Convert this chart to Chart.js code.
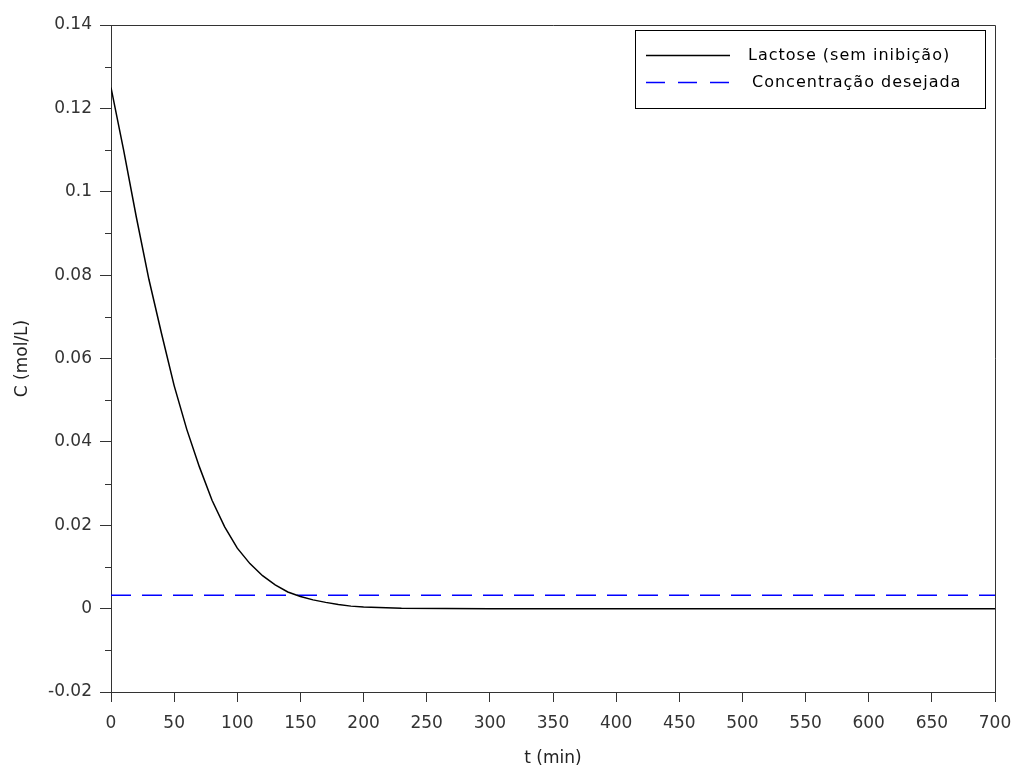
<!DOCTYPE html>
<html>
<head>
<meta charset="utf-8">
<script src="https://cdn.jsdelivr.net/npm/chart.js@4"></script>
<style>
  html, body { margin: 0; padding: 0; background: #fff; }
  #wrap { width: 1014px; height: 769px; }
</style>
</head>
<body>
<div id="wrap"><canvas id="grafLactose" width="1014" height="769"></canvas></div>
<script>
// data
let tempo   = [0, 10, 20, 30, 40, 50, 60, 70, 80, 90, 100, 110, 120, 130, 140, 150, 160, 170, 180, 190, 200, 230, 300, 400, 500, 600, 700]
let lactose = [0.125, 0.110, 0.094, 0.079, 0.066, 0.0535, 0.043, 0.034, 0.026, 0.0196, 0.0145, 0.0108, 0.0079, 0.0057, 0.0040, 0.0029, 0.0021, 0.0015, 0.0010, 0.0006, 0.0004, 0.0001, 0, 0, 0, 0, 0]
let desejadaT = [0, 700]
let desejadaC = [0.0032, 0.0032]
let nomes = ['Lactose (sem inibição)', 'Concentração desejada']
let tituloX = 't (min)'
let tituloY = 'C (mol/L)'

const fonte = 'DejaVu Sans'
const corEixo = '#333'

//frame, minor ticks and boxed legend
const extras = {
    id: 'extras',
    afterDraw(chart) {
        const {ctx, chartArea: a, scales} = chart
        ctx.save()
        ctx.strokeStyle = corEixo
        ctx.lineWidth = 1
        ctx.beginPath()
        ctx.moveTo(a.left, a.top + 0.5)
        ctx.lineTo(a.right + 0.5, a.top + 0.5)
        ctx.lineTo(a.right + 0.5, a.bottom)
        ctx.stroke()

        //minor ticks on y
        const y = scales.y
        ctx.beginPath()
        for (let v = -0.01; v < 0.14; v += 0.02) {
            const p = Math.round(y.getPixelForValue(v)) + 0.5
            ctx.moveTo(a.left - 6, p)
            ctx.lineTo(a.left, p)
        }
        ctx.stroke()

        //legend
        const bx = 635, by = 30, bw = 350, bh = 78
        ctx.fillStyle = '#fff'
        ctx.fillRect(bx, by, bw, bh)
        ctx.strokeStyle = '#000'
        ctx.strokeRect(bx + 0.5, by + 0.5, bw, bh)
        ctx.font = '16px "' + fonte + '"'
        if ('letterSpacing' in ctx) ctx.letterSpacing = '1px'
        ctx.textBaseline = 'middle'
        ctx.fillStyle = '#000'
        chart.data.datasets.forEach((ds, i) => {
            const ly = by + 25 + i * 27 + 0.5
            ctx.strokeStyle = ds.borderColor
            ctx.lineWidth = ds.borderWidth
            ctx.setLineDash(i === 1 ? [19, 13] : [])
            ctx.beginPath()
            ctx.moveTo(646, ly)
            ctx.lineTo(730, ly)
            ctx.stroke()
            ctx.setLineDash([])
            ctx.fillText(ds.label, i === 1 ? 752 : 748, ly)
        })
        ctx.restore()
    }
}

const ctx = document.getElementById('grafLactose').getContext('2d')
const meuGrafico = new Chart(ctx, {
    type: 'line',
    data: {
        datasets: [{
            label: nomes[0],
            data: tempo.map((t, i) => ({x: t, y: lactose[i]})),
            borderColor: '#000',
            borderWidth: 1.5,
            pointRadius: 0,
            fill: false,
            tension: 0
        }, {
            label: nomes[1],
            data: desejadaT.map((t, i) => ({x: t, y: desejadaC[i]})),
            borderColor: '#0000ff',
            borderWidth: 1.5,
            borderDash: [20, 11],
            pointRadius: 0,
            fill: false,
            tension: 0
        }]
    },
    options: {
        responsive: false,
        animation: false,
        layout: { padding: { top: 25, right: 19, left: 0, bottom: 0 } },
        plugins: {
            legend: { display: false },
            tooltip: { enabled: false }
        },
        scales: {
            x: {
                type: 'linear',
                min: 0,
                max: 700,
                afterFit: s => { s.height = 77; s.paddingLeft = 0; s.paddingRight = 0 },
                ticks: {
                    stepSize: 50,
                    color: corEixo,
                    padding: 11,
                    maxRotation: 0,
                    font: { family: fonte, size: 17 }
                },
                grid: { drawOnChartArea: false, tickLength: 10, tickColor: corEixo, tickWidth: 1 },
                border: { color: corEixo, width: 1 },
                title: {
                    display: true,
                    text: tituloX,
                    color: '#222',
                    font: { family: fonte, size: 17 },
                    padding: { top: 0, bottom: 0 }
                }
            },
            y: {
                min: -0.02,
                max: 0.14,
                afterFit: s => { s.width = 111; s.paddingTop = 0; s.paddingBottom = 0 },
                ticks: {
                    stepSize: 0.02,
                    color: corEixo,
                    padding: 8,
                    font: { family: fonte, size: 17 },
                    callback: v => String(+v.toFixed(2))
                },
                grid: { drawOnChartArea: false, tickLength: 11, tickColor: corEixo, tickWidth: 1 },
                border: { color: corEixo, width: 1 },
                title: {
                    display: true,
                    text: tituloY,
                    color: '#222',
                    font: { family: fonte, size: 17 },
                    padding: { top: 12, bottom: 0 }
                }
            }
        }
    },
    plugins: [extras]
})
</script>
</body>
</html>
